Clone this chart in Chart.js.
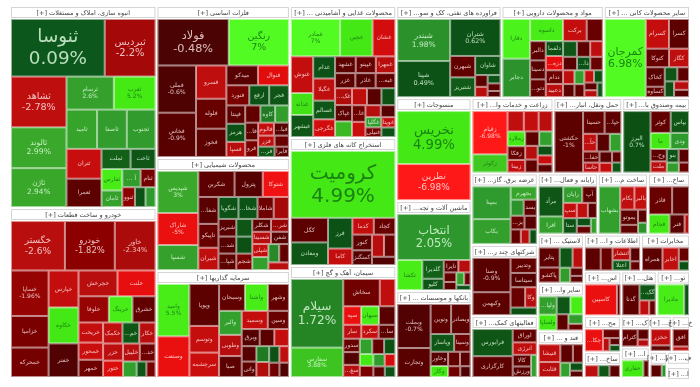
<!DOCTYPE html>
<html>
<head>
<meta charset="utf-8">
<script src="https://cdn.jsdelivr.net/npm/chart.js@4.4.1/dist/chart.umd.min.js"></script>
<style>
  html, body { margin: 0; padding: 0; background: #fff; }
  #wrap { width: 700px; height: 387px; position: relative; }
</style>
</head>
<body>
<div id="wrap"><canvas id="map"></canvas></div>
<script>
// sectors (name, weight) - weights
var sectorNames = [
  "انبوه سازی، املاک و مستغلات", "خودرو و ساخت قطعات", "فلزات اساسی", "محصولات شیمیایی", "سرمایه گذاریها",
  "محصولات غذایی و آشامیدنی به جز قند و شکر", "استخراج کانه های فلزی", "سیمان، آهک و گچ",
  "فراورده های نفتی، کک و سوخت هسته ای", "مواد و محصولات دارویی", "سایر محصولات کانی غیرفلزی",
  "منسوجات", "ماشین آلات و تجهیزات", "بانکها و موسسات اعتباری",
  "زراعت و خدمات وابسته", "حمل ونقل، انبارداری و ارتباطات", "بیمه وصندوق بازنشستگی به جزتامین اجتماعی",
  "عرضه برق، گاز، بخاروآب گرم", "شرکتهای چند رشته ای صنعتی", "فعالیتهای کمکی به نهادهای مالی واسط",
  "رایانه و فعالیتهای وابسته به آن", "ساخت ماشین آلات و دستگاههای برقی", "ساخت محصولات فلزی",
  "لاستیک و پلاستیک", "سایر واسطه گریهای مالی", "قند و شکر", "اطلاعات و ارتباطات", "مخابرات",
  "استخراج نفت گاز و خدمات جنبی جز اکتشاف", "هتل و رستوران", "تولید محصولات کامپیوتری الکترونیکی ونوری",
  "محصولات کاغذی", "ساخت دستگاهها و وسایل ارتباطی", "کاشی و سرامیک", "استخراج سایر معادن",
  "حمل و نقل آبی", "خرده فروشی،باستثنای وسایل نقلیه موتوری", "محصولات چوبی",
  "فعالیت های هنری، سرگرمی و خلاقانه", "استخراج زغال سنگ"
];
var sectorWeights = [
  29500, 24820, 20216, 15029, 14231,
  13992, 13568, 11872,
  9660, 9384, 7912,
  7725, 6750, 6525,
  6156, 5168, 5092,
  4720, 4700, 4092,
  3660, 3050, 2562,
  2250, 2200, 2150, 2100, 1800,
  1665, 1575, 1485,
  1330, 950, 900, 880,
  780, 650, 450,
  350, 250
];

// tiles of each sector: [symbol, size, change %]
var melk = [["ثنوسا",5170,0.09],["ثبردیس",2800,-2.2],["ثشاهد",2700,-2.78],["ثالوند",2170,2.99],["ثاژن",2070,2.94],
  ["ثرسام",1500,2.6],["ثغرب",1320,5.2],["ثامید",1150,2.7],["ثاصفا",1120,2.4],["ثجنوب",1080,2.3],["ثتران",1000,-3.1],
  ["ثعمرا",950,-1.0],["ثملت",560,1.0],["ثاخت",480,0.8],["ثفارس",430,5.5],["ثامان",330,2.6],["آ س پ",320,2.4],
  ["ثنام",260,-1.4],["ثنوو",240,-1.8],["ثشا",200,0.6],["ثباغ",190,2.2]];
var khodro = [["خگستر",2650,-2.6],["خودرو",2450,-1.82],["خاور",2000,-2.34],["خساپا",1700,-1.96],["خزامیا",1180,-1.5],
  ["خمحرکه",1100,-1.4],["خپارس",1100,-3.0],["خکاوه",1070,5.0],["خفنر",1000,-0.7],["خچرخش",1000,-2.6],["خلنت",975,-4.5],
  ["خلوفا",790,-2.0],["خرینگ",615,5.5],["خشرق",600,-1.1],["خریخت",490,-3.0],["خمحور",420,-3.2],["خمهر",420,-1.3],
  ["خکمک",405,-2.8],["خکار",340,-2.6],["خمحرک",350,0.8],["خزر",340,-2.7],["ختور",325,-3.8],["خلیبل",300,-2.5],
  ["خدیزل",280,-1.3],["خبهمن",210,2.5],["خاهن",150,0.8],["خبازر",140,-1.5]];
var felezat = [["فولاد",2911,-0.48],["رنگین",2460,7.0],["فملی",1600,-0.6],["فخاس",1500,-0.9],["فسرو",890,-2.8],
  ["فلوله",800,-1.2],["فخوز",756,-1.0],["میدکو",550,-0.9],["فنوال",540,-4.0],["فنورد",405,-1.5],["ارفع",352,0.6],
  ["فجر",350,0.8],["فپنتا",304,-1.0],["هرمز",300,0.7],["کاوه",224,1.5],["فرو",190,-1.5],["فسپا",250,-2.6],
  ["فگستر",230,-1.1],["فجهان",210,2.4],["فاسمین",200,-1.0],["فالوم",180,-3.0],["فباهنر",170,-0.8],["فزر",160,-2.7],
  ["فروس",150,0.8],["فسازان",140,-1.2],["فایرا",130,-0.9]];
var shimi = [["شپدیس",1640,3.0],["شاراک",1250,-5.0],["شسپا",975,2.6],["شکربن",900,-1.0],["پترول",700,-0.8],
  ["شتوکا",650,-5.5],["شفارس",520,-0.9],["تاپیکو",460,-1.2],["شیران",430,-2.8],["شگویا",420,0.6],["شخارک",400,0.5],
  ["شاملا",340,-1.3],["شنفت",320,-2.2],["شبریز",300,-0.9],["شدوص",290,-0.8],["شپاکسا",280,-1.0],["شصدف",270,0.8],
  ["شبهرن",260,0.7],["شجم",250,-1.5],["شکلر",230,-1.0],["شرنگی",220,-2.0],["شسینا",220,-2.5],["شفن",210,-0.9],
  ["شپلی",200,-3.0],["شلعاب",200,2.5],["شکف",190,1.8],["شرانل",170,-1.1],["شبصیر",150,-2.6]];
var sarmaye = [["وامید",1480,5.5],["وصنعت",1150,-5.0],["وپویا",1100,-1.0],["وتوسم",700,-3.0],["سرچشمه",640,-3.2],
  ["وسبحان",616,-1.1],["واشنا",546,5.5],["وشهر",500,-1.1],["والبر",483,2.5],["وطوبی",425,-2.5],["صبا",420,-1.0],
  ["وسمید",420,-3.0],["وسین",340,-1.2],["وبرق",272,-0.8],["وسکاب",221,-0.9],["وساپا",221,-3.0],["ونیکی",200,-0.8],
  ["واتی",200,-1.0],["وسنا",180,1.5],["وکغدیر",170,-2.4],["وبوعلی",150,0.7],["وآوا",140,-2.8],["وسپه",130,-1.3],
  ["وملت",120,-0.6]];
var ghaza = [["غمادر",1800,7.0],["غچین",1190,5.0],["غشان",830,-3.5],["غنوش",800,-3.0],["غدانه",480,4.8],
  ["غبشهر",480,0.8],["غدام",475,0.6],["غگیلا",475,-2.8],["غسالم",400,0.8],["غگرجی",380,-3.5],["غشهد",340,-1.0],
  ["غپینو",330,-1.2],["غمهرا",320,-2.6],["غزر",300,-1.0],["غاذر",300,-0.8],["غبهنوش",290,-1.1],["غکورش",280,-2.4],
  ["غپاک",270,-1.0],["غشصفا",260,3.5],["غفارس",250,-2.8],["غصینو",240,-0.9],["غدشت",230,0.7],["غالبر",220,-1.3],
  ["غپآذر",200,-3.2],["غشاذر",180,-2.5],["غسحر",170,-0.8],["غگلپا",160,2.4],["غنیلی",150,-1.4],["غویتا",140,-3.0],
  ["غبهار",130,0.5]];
var kane = [["کرومیت",7280,4.99],["کگل",950,-1.0],["ومعادن",875,0.8],["فرز",780,0.6],["کاما",420,-3.0],
  ["کدما",375,-3.0],["کچاد",375,-1.2],["کنور",320,-1.0],["کمنگنز",300,-0.8],["کروی",280,-2.5],["کرماشا",260,-1.2],
  ["کسرب",200,-0.7]];
var siman = [["سیلام",3570,1.72],["سفارس",1530,3.88],["سخاش",990,-1.35],["سبزوا",420,-2.8],["سپه",330,-5.0],
  ["سبهان",330,5.5],["سشمال",300,-0.9],["سار",250,-2.7],["سکرد",240,-3.0],["ساروم",230,-1.0],["سدور",220,-1.2],
  ["سشرق",210,-0.8],["سغرب",200,-2.5],["ساوه",190,2.5],["سهگمت",180,-1.1],["سقاین",170,0.7],["سفار",160,5.0],
  ["سکارون",150,-1.5],["سصوفی",140,2.2],["سخزر",130,-3.5],["سدشت",120,-1.0],["سیدکو",110,0.6]];
var nafti = [["شبندر",2268,1.98],["شپنا",1944,0.49],["شتران",1900,0.62],["شبهرن",546,-1.1],["شتبریز",504,0.9],
  ["شاوان",494,0.7],["شسپا",150,-1.0],["شنفت",130,-2.6],["شرانل",110,0.6],["شپاس",100,-1.0],["شدوص",80,-0.8]];
var daru = [["دفارا",1110,6.0],["دجابر",1073,2.0],["داسوه",740,5.5],["برکت",532,-3.0],["دسبحا",361,-1.2],
  ["دالبر",304,-1.0],["دسینا",300,-0.9],["دتولید",280,-1.1],["دلقما",260,0.7],["دزهراوی",250,-4.5],["ددام",240,-1.3],
  ["دعبید",230,-2.6],["دکوثر",220,0.8],["دپارس",210,-1.0],["دشیمی",200,-2.7],["دکیمی",190,-0.9],["دامین",180,0.6],
  ["دتماد",170,-1.2],["دکپسول",160,-2.8],["دفرا",150,-1.0],["دبالک",140,2.5],["دارو",130,-1.1],["دکسری",120,-3.0],
  ["دیران",110,0.7],["درازک",100,-1.0],["دتهران",90,-2.5],["داوه",80,0.6]];
var kani = [["کمرجان",3276,6.98],["کسرام",704,-3.0],["کسرا",608,-1.0],["کتوکا",440,-1.2],["کگاز",380,-2.8],
  ["کخاک",378,-0.9],["کساوه",200,-1.1],["کفرا",182,0.8],["کایتا",169,-1.0],["کپشیر",150,0.7],["کهمدا",130,-2.5],
  ["کاذر",110,-0.8]];
var nasaji = [["نخریس",3870,4.99],["نطرین",2630,-6.98]];
var mashin = [["انتخاب",3358,2.05],["تکشا",750,5.5],["گلدیرا",400,1.0],["کلیو",240,0.8],["تایرا",180,-1.0],
  ["تپمپی",150,-2.5],["فنرژی",120,-1.1],["تمحرکه",100,-0.9],["ختراک",100,2.5],["لخزر",80,-1.2],["کمینو",70,0.6]];
var bank = [["وبملت",1452,-0.7],["وتجارت",957,-0.9],["ونوین",608,-1.0],["وبصادر",576,-1.0],["وپاسار",414,0.8],
  ["وسینا",288,-1.2],["وخاور",247,-0.8],["وکار",190,5.0],["وسالت",170,-1.1],["وپست",150,-0.9],["وآیند",130,-1.3],
  ["وشهر",110,-0.6]];
var zeraat = [["زقیام",1505,-6.98],["زکوثر",630,4.0],["سیمرغ",330,-2.8],["زشریف",300,-3.0],["زماهان",280,-2.6],
  ["زملارد",260,5.0],["زفکا",240,-1.2],["زبینا",220,-2.9],["زگلدشت",200,-1.0],["زدشت",190,2.5],["زپارس",170,-2.5],
  ["زنگان",160,-1.1],["زشگزا",140,0.7],["زفجر",130,-3.1],["زمگسا",120,-1.0]];
var haml = [["حکشتی",1736,-1.0],["حسینا",484,-1.1],["حپارسا",374,-1.0],["حآفرین",240,-2.8],["حتوکا",228,-0.9],
  ["حریل",200,2.5],["حفارس",180,-1.2],["حاسا",160,-2.5],["حشکوه",140,-0.8],["حبندر",120,-3.0],["حتاید",100,-1.0],
  ["حرهشا",90,0.8]];
var bime = [["البرز",1674,0.7],["کوثر",440,-1.1],["بپاس",400,0.8],["ما",320,5.0],["ودی",300,2.2],["وحکمت",200,-1.0],
  ["ملت",180,-2.6],["بنو",160,0.6],["دانا",140,-0.9],["وآتی",120,2.4],["کاردان",100,-1.2]];
var bargh = [["بمپنا",1188,2.2],["بکاب",900,2.5],["بجهرم",330,2.8],["بپیوند",200,2.0],["بسد",200,-1.0],
  ["بزاگرس",180,-1.2],["بنیرو",160,-0.9],["بکهنوج",140,-1.1],["بیزد",120,-2.6],["بگیلان",100,0.7]];
var chand = [["وصنا",1320,-0.9],["وکبهمن",880,-1.0],["وتدبیر",400,-1.1],["سیتاسا",380,-0.8],["وسپهر",300,-1.2],
  ["وکا",240,-2.5],["ونیرو",200,0.7]];
var komaki = [["فرابورس",1020,0.8],["کارگزاری",782,-1.0],["اوراق",300,-1.1],["انرژی",280,-2.8],["کالا",200,-1.0],
  ["ورزش",180,-0.9],["آتی",120,2.5]];
var rayane = [["مرآد",700,0.8],["افرا",400,2.5],["رایان",300,2.4],["آپ",230,-1.0],["سپ",200,-3.0],["ستا",200,0.7],
  ["سیستم",160,-2.8],["تاپکیش",130,-1.0],["پرداخت",110,0.6],["اپرداز",100,-1.2],["فن آوا",90,2.5]];
var barghi = [["بشهاب",1040,2.5],["بکام",340,-2.8],["بالبر",300,-3.0],["بموتو",280,-1.0],["بسویچ",160,-1.1],
  ["بترانس",120,-0.9],["بایکا",100,2.0]];
var felezi = [["فاذر",616,-1.2],["فسازان",448,-1.0],["فجام",374,5.0],["فنر",272,-0.9],["فمراد",80,-2.5]];
var lastik = [["پتایر",400,-1.0],["پاکشو",300,-1.2],["پلاست",250,0.8],["پدرخش",200,-2.6],["پکرمان",150,2.4],
  ["پسهند",100,-1.0],["پیزد",80,-0.9]];
var vasete = [["ولپارس",350,2.5],["ولساپا",300,5.0],["ولملت",260,0.8],["ولصنم",240,5.5],["ولکار",200,-1.0],
  ["ولغدر",150,2.4],["ولبهمن",100,-1.2]];
var ghand = [["قنیشا",330,-2.8],["قثابت",280,-2.5],["قشکر",200,-1.0],["قهکمت",160,-1.2],["قشهد",120,2.5],
  ["قمرو",90,0.7],["قلرست",70,-0.9]];
var ettelaat = [["آسیاتک",400,-1.0],["رتاپ",300,-1.2],["انتشار",250,-2.6],["اعتلا",200,0.8],["اسپا",150,-0.9],
  ["انیک",100,-1.1]];
var mokhaberat = [["همراه",500,-1.0],["اخابر",400,-2.8],["های وب",150,-1.2],["حآسا",100,0.7]];
var naft = [["کاسپین",1050,-5.0],["حپترو",110,-1.0]];
var hotel = [["گدنا",550,-1.0],["گکوثر",270,0.8],["گپارس",150,-2.8],["گلستان",100,-1.2]];
var tolid = [["مادیرا",840,5.5],["تکرا",150,0.7]];
var kaghazi = [["چکارن",500,-5.0],["چکاپا",190,-1.2],["چفیبر",110,-2.6],["چکاوه",90,-1.0],["چافست",80,0.7]];
var ertebati = [["لسرما",220,-2.7],["لخانه",180,0.8],["لپارس",170,-1.0]];
var kashi = [["کترام",280,-1.1],["کپارس",120,-1.0],["کیسن",80,-2.5]];
var maaden = [["حفاری",400,5.0],["کگهر",100,-1.0]];
var abi = [["حخزر",300,-2.8],["حپارس",100,-1.0]];
var khorde = [["افق",400,-1.2],["رفاه",100,-2.6]];
var choobi = [["چوکا",200,-1.0],["چدن",80,2.0]];
var honari = [["هنر",150,-2.5]];
var zoghal = [["کزغال",120,-3.0]];

var sectorTiles = [melk, khodro, felezat, shimi, sarmaye, ghaza, kane, siman, nafti, daru, kani,
  nasaji, mashin, bank, zeraat, haml, bime, bargh, chand, komaki, rayane, barghi, felezi,
  lastik, vasete, ghand, ettelaat, mokhaberat, naft, hotel, tolid, kaghazi, ertebati, kashi, maaden,
  abi, khorde, choobi, honari, zoghal];

// colour stops for |change|
var negStops = [[0,[62,0,0]],[0.5,[76,3,3]],[1.0,[92,0,0]],[1.8,[140,0,0]],[2.5,[182,14,14]],[4,[225,12,12]],[7,[255,24,24]]];
var posStops = [[0,[12,88,28]],[0.7,[12,80,20]],[1.7,[36,132,36]],[2.1,[46,152,46]],[3,[58,168,42]],[5,[68,232,20]],[7,[82,252,34]]];

function colorFor(c) {
  var stops = c < 0 ? negStops : posStops;
  var a = Math.min(Math.abs(c), 7);
  for (var i = 1; i < stops.length; i++) {
    if (a <= stops[i][0]) {
      var t = (a - stops[i-1][0]) / (stops[i][0] - stops[i-1][0]);
      var p = stops[i-1][1], q = stops[i][1];
      return "rgb(" + p.map(function(v, k) { return Math.round(v + (q[k] - v) * t); }).join(",") + ")";
    }
  }
  return "rgb(" + stops[stops.length-1][1].join(",") + ")";
}

// squarified layout, values must be sorted big to small
function squarify(values, x0, y0, x1, y1) {
  var rects = [], total = 0, n = values.length, i0 = 0;
  values.forEach(function(v) { total += v; });
  while (i0 < n) {
    var dx = x1 - x0, dy = y1 - y0;
    var i1 = i0;
    var sum = values[i1++], minV = sum, maxV = sum;
    var alpha = Math.max(dy / dx, dx / dy) / total;
    var beta = sum * sum * alpha;
    var minRatio = Math.max(maxV / beta, beta / minV);
    for (; i1 < n; i1++) {
      var v = values[i1], s = sum + v;
      var mn = Math.min(minV, v), mx = Math.max(maxV, v);
      beta = s * s * alpha;
      var r = Math.max(mx / beta, beta / mn);
      if (r > minRatio) break;
      sum = s; minV = mn; maxV = mx; minRatio = r;
    }
    if (dx < dy) {
      var h = dy * sum / total, x = x0;
      for (var i = i0; i < i1; i++) {
        var w = dx * values[i] / sum;
        rects[i] = {x0: x, y0: y0, x1: x + w, y1: y0 + h};
        x += w;
      }
      y0 += h;
    } else {
      var w2 = dx * sum / total, y = y0;
      for (var j = i0; j < i1; j++) {
        var h2 = dy * values[j] / sum;
        rects[j] = {x0: x0, y0: y, x1: x0 + w2, y1: y + h2};
        y += h2;
      }
      x0 += w2;
    }
    total -= sum;
    i0 = i1;
  }
  return rects;
}

function fitText(ctx, text, maxW) {
  if (ctx.measureText(text).width <= maxW) return text;
  var t = text;
  while (t.length > 1 && ctx.measureText(t + "...").width > maxW) t = t.slice(0, -1);
  return t.length > 1 ? t + "..." : "";
}

function pctText(c) {
  return parseFloat(c.toFixed(2)) + "%";
}

var FONT = '"DejaVu Sans", sans-serif';

var treemapPlugin = {
  id: "treemap",
  afterDatasetsDraw: function(chart) {
    var ctx = chart.ctx, xs = chart.scales.x, ys = chart.scales.y;
    var X0 = xs.getPixelForValue(0), X1 = xs.getPixelForValue(1);
    var Y0 = ys.getPixelForValue(1), Y1 = ys.getPixelForValue(0);

    var sOrder = sectorWeights.map(function(v, i) { return i; }).sort(function(a, b) { return sectorWeights[b] - sectorWeights[a]; });
    var sRects = squarify(sOrder.map(function(i) { return sectorWeights[i]; }), X0, Y0, X1, Y1);

    ctx.save();
    sOrder.forEach(function(si, k) {
      var r = sRects[k];
      var sx0 = r.x0 + 1, sx1 = r.x1 - 1, sy0 = r.y0 + 1, sy1 = r.y1 - 1;
      var hh = 11;

      // header bar
      ctx.fillStyle = "#fff";
      ctx.fillRect(sx0, sy0, sx1 - sx0, hh);
      ctx.strokeStyle = "#d4d4d4";
      ctx.lineWidth = 1;
      ctx.strokeRect(sx0 + 0.5, sy0 + 0.5, sx1 - sx0 - 1, hh - 1);
      ctx.font = "6.5px " + FONT;
      ctx.fillStyle = "#444";
      ctx.textAlign = "center";
      ctx.textBaseline = "middle";
      ctx.direction = "rtl";
      var label = sectorNames[si] + " [+]";
      if (ctx.measureText(label).width > sx1 - sx0 - 4) {
        var nm = sectorNames[si];
        while (nm.length > 1 && ctx.measureText("..." + nm + " [+]").width > sx1 - sx0 - 4) nm = nm.slice(0, -1);
        label = nm + "... [+]";
      }
      ctx.fillText(label, (sx0 + sx1) / 2, sy0 + hh / 2 + 0.5);

      // tiles
      var tiles = sectorTiles[si];
      var tOrder = tiles.map(function(t, i) { return i; }).sort(function(a, b) { return tiles[b][1] - tiles[a][1]; });
      var ty0 = sy0 + hh + 1;
      if (sy1 - ty0 < 2) return;
      var tRects = squarify(tOrder.map(function(i) { return tiles[i][1]; }), sx0, ty0, sx1, sy1);
      tOrder.forEach(function(ti, m) {
        var t = tiles[ti], q = tRects[m];
        var w = q.x1 - q.x0, h = q.y1 - q.y0;
        ctx.fillStyle = colorFor(t[2]);
        ctx.fillRect(q.x0, q.y0, w, h);
        ctx.strokeStyle = "rgba(255,255,255,0.55)";
        ctx.lineWidth = 1;
        ctx.strokeRect(q.x0 + 0.5, q.y0 + 0.5, w - 1, h - 1);

        if (w < 11 || h < 9) return;
        var area = w * h;
        var fs = Math.max(6, Math.min(20, area * 0.0034));
        ctx.fillStyle = t[2] >= 4 ? "rgba(25,125,20,0.95)" : "rgba(255,235,235,0.8)";
        if (t[2] > 0 && t[2] < 4) ctx.fillStyle = "rgba(230,255,230,0.8)";
        ctx.font = fs + "px " + FONT;
        var name = fitText(ctx, t[0], w - 2);
        if (!name) return;
        var showPct = area > 1300 && h > fs * 2.2;
        var cx = (q.x0 + q.x1) / 2, cy = (q.y0 + q.y1) / 2;
        ctx.direction = "rtl";
        if (showPct) {
          ctx.fillText(name, cx, cy - fs * 0.55);
          ctx.direction = "ltr";
          ctx.fillText(pctText(t[2]), cx, cy + fs * 0.6);
        } else {
          ctx.fillText(name, cx, cy);
        }
      });
    });
    ctx.restore();
  }
};

new Chart(document.getElementById("map"), {
  type: "scatter",
  data: { datasets: [{ data: [] }] },
  options: {
    responsive: true,
    maintainAspectRatio: false,
    animation: false,
    events: [],
    layout: { padding: { left: 10, right: 10, top: 6, bottom: 9 } },
    plugins: { legend: { display: false }, tooltip: { enabled: false } },
    scales: {
      x: { type: "linear", min: 0, max: 1, display: false },
      y: { type: "linear", min: 0, max: 1, display: false }
    }
  },
  plugins: [treemapPlugin]
});
</script>
</body>
</html>
